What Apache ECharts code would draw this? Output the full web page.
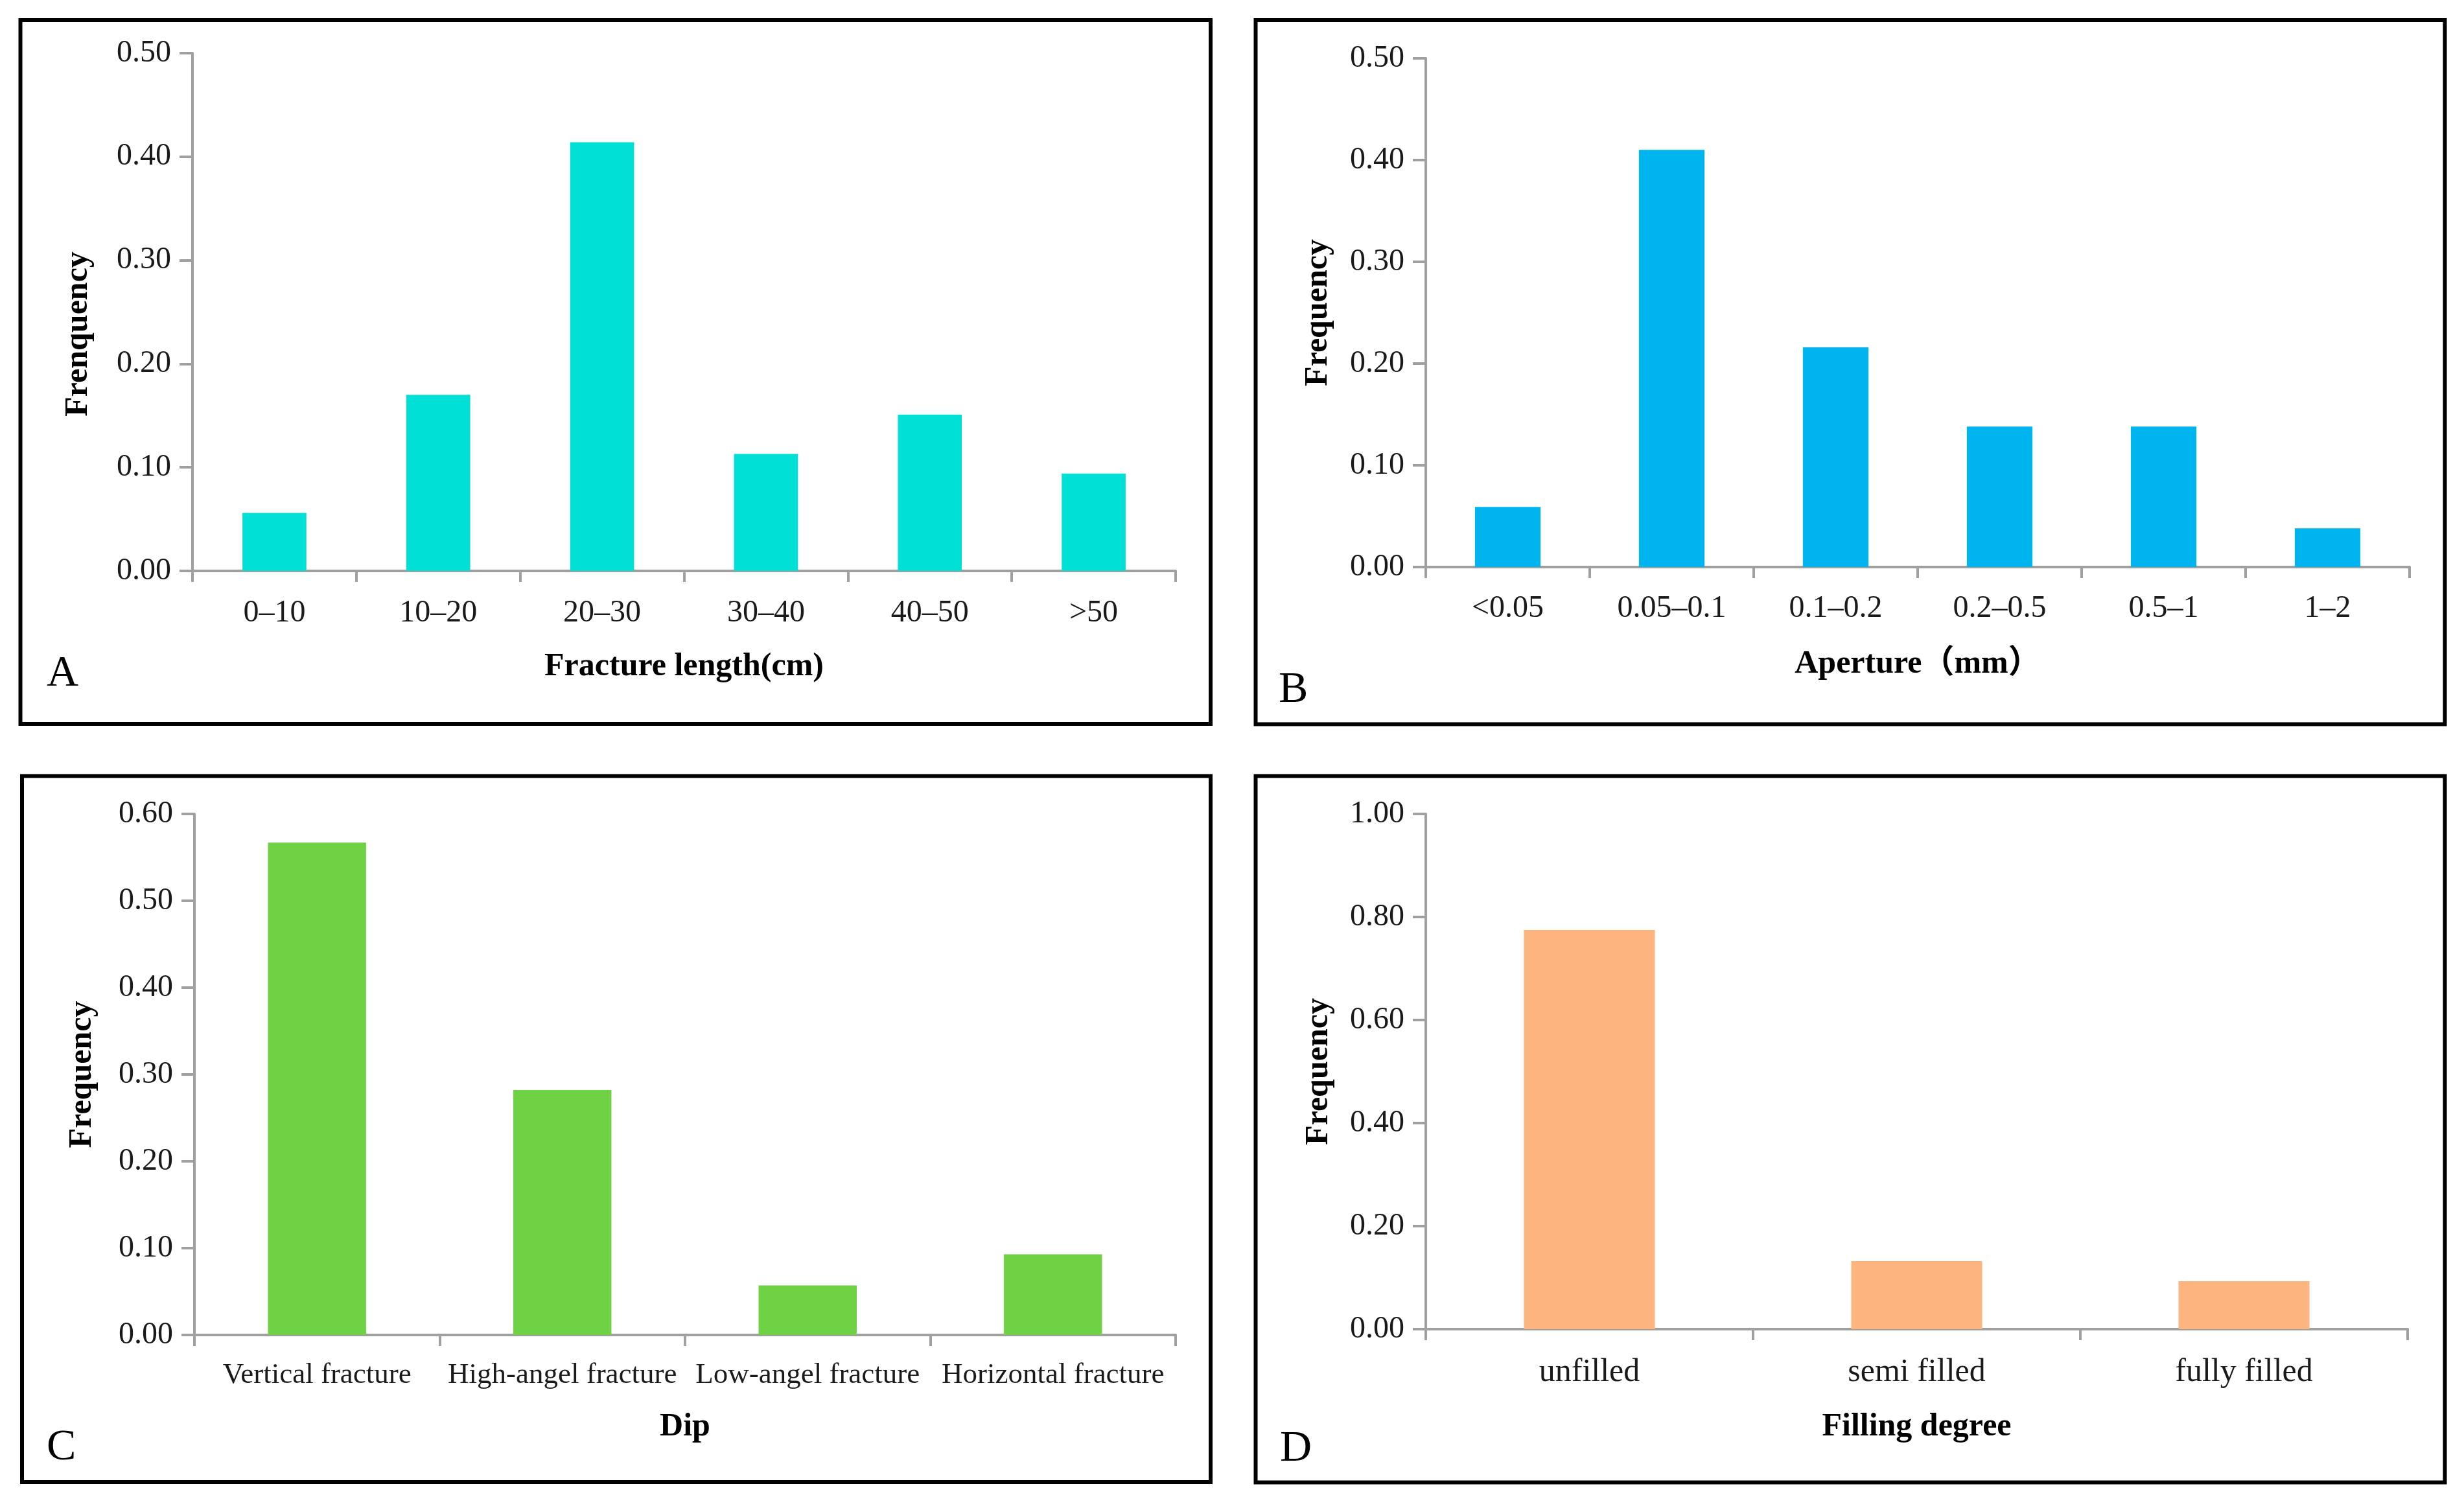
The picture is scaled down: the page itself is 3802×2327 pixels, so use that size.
<!DOCTYPE html>
<html>
<head>
<meta charset="utf-8">
<script src="https://cdn.jsdelivr.net/npm/echarts@6/dist/echarts.min.js"></script>
<style>
html,body{margin:0;padding:0;background:#fff;}
#chart{width:3802px;height:2327px;}
</style>
</head>
<body>
<div id="chart"></div>
<script>
// ---- data ----
const lengthCats = ['0–10', '10–20', '20–30', '30–40', '40–50', '>50'];
const lengthFreq = [0.056, 0.170, 0.414, 0.113, 0.151, 0.094];

const apertureCats = ['<0.05', '0.05–0.1', '0.1–0.2', '0.2–0.5', '0.5–1', '1–2'];
const apertureFreq = [0.059, 0.410, 0.216, 0.138, 0.138, 0.038];

const dipCats = ['Vertical fracture', 'High-angel fracture', 'Low-angel fracture', 'Horizontal fracture'];
const dipFreq = [0.567, 0.282, 0.057, 0.093];

const fillCats = ['unfilled', 'semi filled', 'fully filled'];
const fillFreq = [0.775, 0.132, 0.093];

const yMaxA = 0.5, yStepA = 0.1;
const yMaxB = 0.5, yStepB = 0.1;
const yMaxC = 0.6, yStepC = 0.1;
const yMaxD = 1.0, yStepD = 0.2;

const xNames = ['Fracture length(cm)', 'Aperture（mm）', 'Dip', 'Filling degree'];
const yNames = ['Frenquency', 'Frequency', 'Frequency', 'Frequency'];
const panelLetters = ['A', 'B', 'C', 'D'];

// ---- style ----
const FONT = "'Liberation Serif', 'Times New Roman', 'Noto Sans CJK SC', serif";
const AX = '#a0a0a0';
const TXT = '#1a1a1a';

const grids = [
  {left: 297, top: 82, width: 1517, height: 799},
  {left: 2200, top: 90, width: 1518, height: 785},
  {left: 300, top: 1256, width: 1514, height: 804},
  {left: 2200, top: 1256, width: 1515, height: 795}
];

function xAxisOf(i, cats, fs, labelMargin, nameGap) {
  return {
    type: 'category', gridIndex: i, data: cats,
    axisLine: {show: true, lineStyle: {color: AX, width: 4}},
    axisTick: {show: true, length: 17, lineStyle: {color: AX, width: 4}},
    axisLabel: {interval: 0, margin: labelMargin, color: TXT, fontFamily: FONT, fontSize: fs},
    splitLine: {show: false},
    name: xNames[i], nameLocation: 'middle', nameGap: nameGap,
    nameTextStyle: {color: '#000', fontFamily: FONT, fontSize: 50, fontWeight: 'bold'}
  };
}
function yAxisOf(i, max, step, nameGap, pad) {
  return {
    type: 'value', gridIndex: i, min: 0, max: max, interval: step,
    axisLine: {show: true, lineStyle: {color: AX, width: 4}},
    axisTick: {show: true, length: 20, lineStyle: {color: AX, width: 4}},
    axisLabel: {margin: 33, color: TXT, fontFamily: FONT, fontSize: 48,
      padding: [7, 0, 0, 0], formatter: v => v.toFixed(2)},
    splitLine: {show: false},
    name: yNames[i], nameLocation: 'middle', nameGap: nameGap,
    nameTextStyle: {color: '#000', fontFamily: FONT, fontSize: 50, fontWeight: 'bold',
      padding: pad || 0}
  };
}
function barOf(i, vals, color, w) {
  return {
    type: 'bar', xAxisIndex: i, yAxisIndex: i, data: vals, barWidth: w,
    itemStyle: {color: color}, silent: true
  };
}

const frames = [
  [31.5, 31, 1868, 1117],
  [1937.5, 31, 3772.5, 1117.5],
  [34, 1197.5, 1868, 2287],
  [1937.5, 1197.5, 3772.5, 2287.5]
];
const letterPos = [[72, 1040], [1973, 1065], [72, 2234], [1975, 2236]];

const graphic = [];
frames.forEach(f => graphic.push({
  type: 'rect', silent: true,
  shape: {x: f[0], y: f[1], width: f[2] - f[0], height: f[3] - f[1]},
  style: {fill: 'none', stroke: '#000', lineWidth: 6}
}));
panelLetters.forEach((t, k) => graphic.push({
  type: 'text', silent: true, x: letterPos[k][0], y: letterPos[k][1],
  style: {text: t, font: "68px 'Liberation Serif', 'Times New Roman', serif",
    fill: '#000', align: 'left', verticalAlign: 'middle'}
}));

const chart = echarts.init(document.getElementById('chart'), null, {renderer: 'canvas'});
chart.setOption({
  animation: false,
  backgroundColor: '#ffffff',
  grid: grids,
  xAxis: [
    xAxisOf(0, lengthCats, 48, 41, 123),
    xAxisOf(1, apertureCats, 48, 40, 125),
    xAxisOf(2, dipCats, 45, 40, 117),
    xAxisOf(3, fillCats, 50, 42, 126)
  ],
  yAxis: [
    yAxisOf(0, yMaxA, yStepA, 151, [0, 68, 0, 0]),
    yAxisOf(1, yMaxB, yStepB, 141),
    yAxisOf(2, yMaxC, yStepC, 148),
    yAxisOf(3, yMaxD, yStepD, 140)
  ],
  series: [
    barOf(0, lengthFreq, '#00E0D6', '39%'),
    barOf(1, apertureFreq, '#00B4F0', '40%'),
    barOf(2, dipFreq, '#6FD244', '40%'),
    barOf(3, fillFreq, '#FDB47E', '40%')
  ],
  graphic: graphic
});
</script>
</body>
</html>
